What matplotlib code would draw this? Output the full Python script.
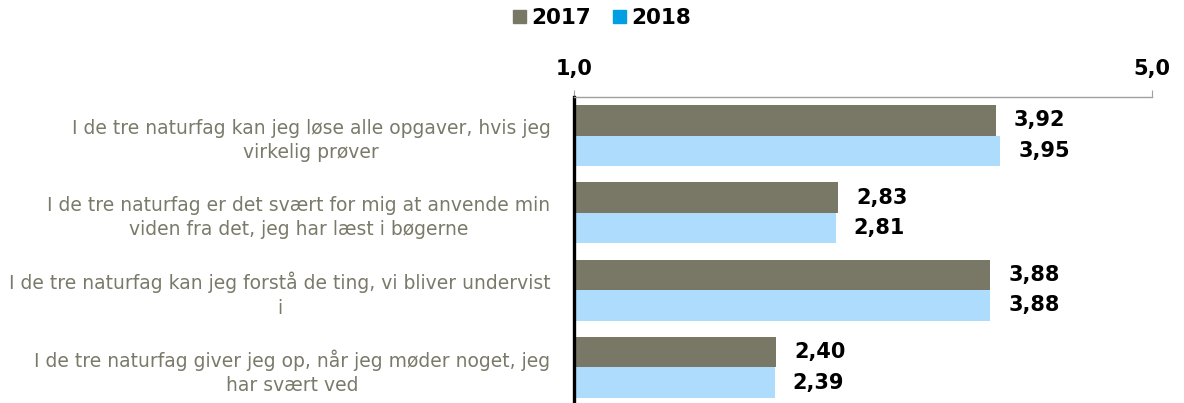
import numpy as np
import matplotlib
matplotlib.use('Agg')
import matplotlib.pyplot as plt
from matplotlib.patches import Patch

labels = ['I de tre naturfag kan jeg løse alle opgaver, hvis jeg\nvirkelig prøver',
          'I de tre naturfag er det svært for mig at anvende min\nviden fra det, jeg har læst i bøgerne',
          'I de tre naturfag kan jeg forstå de ting, vi bliver undervist\ni',
          'I de tre naturfag giver jeg op, når jeg møder noget, jeg\nhar svært ved']
v2017 = [3.92, 2.83, 3.88, 2.40]
v2018 = [3.95, 2.81, 3.88, 2.39]
series = ['2017', '2018']
ticks = [1.0, 5.0]

c2017 = '#797866'
c2018 = '#ADDCFC'
c2018_legend = '#009FE3'

fig = plt.figure(figsize=(11.84, 4.03), dpi=100)
W, H = 1184, 403
ax = fig.add_axes([574 / W, 1 - 406 / H, (1152 - 574) / W, (406 - 97) / H])

y = np.arange(len(labels))
h = 0.395
ax.barh(y - h / 2, [v - 1 for v in v2017], height=h, left=1, color=c2017)
ax.barh(y + h / 2, [v - 1 for v in v2018], height=h, left=1, color=c2018)

for yi, v in zip(y, v2017):
    ax.annotate(f'{v:.2f}'.replace('.', ','), (v, yi - h / 2), xytext=(18, 0),
                textcoords='offset pixels', va='center', ha='left',
                fontsize=15, fontweight='bold')
for yi, v in zip(y, v2018):
    ax.annotate(f'{v:.2f}'.replace('.', ','), (v, yi + h / 2), xytext=(18, 0),
                textcoords='offset pixels', va='center', ha='left',
                fontsize=15, fontweight='bold')

ax.set_xlim(1, 5)
ax.set_ylim(len(labels) - 0.5, -0.5)
ax.set_xticks(ticks)
ax.set_xticklabels([f'{t:.1f}'.replace('.', ',') for t in ticks], fontsize=15, fontweight='bold')
ax.xaxis.tick_top()
ax.tick_params(axis='x', direction='out', length=5, color='#A0A0A0', pad=8)
ax.set_yticks(y)
ax.set_yticklabels(labels, fontsize=13.5, color='#7A7A6A', multialignment='center',
                   linespacing=1.35)
ax.tick_params(axis='y', length=0, pad=17)

for s in ['right', 'bottom']:
    ax.spines[s].set_visible(False)
ax.spines['top'].set_color('#A0A0A0')
ax.spines['top'].set_linewidth(1)
ax.spines['left'].set_color('black')
ax.spines['left'].set_linewidth(2.4)

handles = [Patch(color=c2017), Patch(color=c2018_legend)]
fig.legend(handles, series, loc='center', bbox_to_anchor=(602 / W, 1 - 18 / H), ncol=2,
           frameon=False, handlelength=0.6, handleheight=0.6, handletextpad=0.25,
           columnspacing=1.0, prop={'size': 15.5, 'weight': 'bold'})

fig.savefig('out.png', dpi=100)
